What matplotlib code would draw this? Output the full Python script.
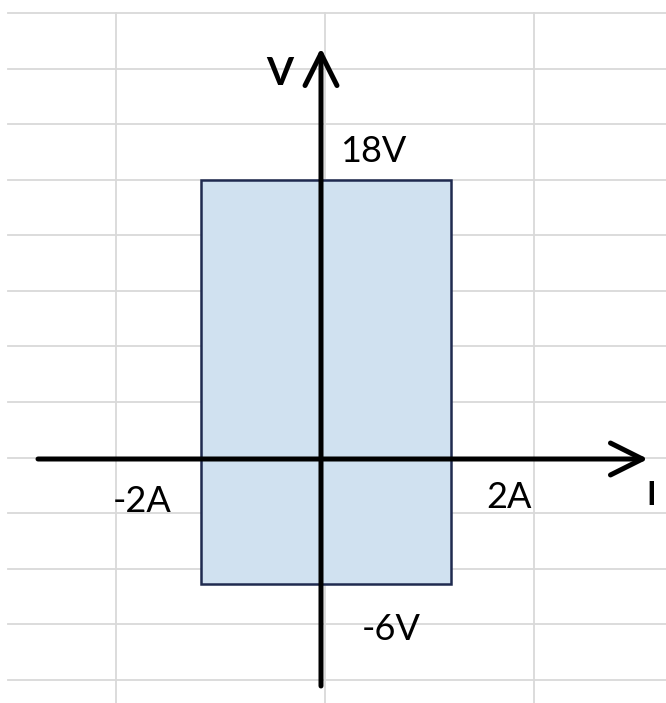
import numpy as np
import matplotlib
matplotlib.use("Agg")
import matplotlib.pyplot as plt
from matplotlib.patches import Rectangle

# operating region (I in amps, V in volts)
i_min, i_max = -2, 2
v_min, v_max = -6, 18
i_labels = ["-2A", "2A"]
v_labels = ["18V", "-6V"]

# sketch is not drawn to scale: different px/unit on each side of the axes
PX_I_NEG, PX_I_POS = 60.0, 65.0
PX_V_NEG, PX_V_POS = 20.83, 15.5


def piecewise(neg, pos):
    def fwd(v):
        v = np.asarray(v, dtype=float)
        return np.where(v < 0, v * neg, v * pos)

    def inv(p):
        p = np.asarray(p, dtype=float)
        return np.where(p < 0, p / neg, p / pos)
    return fwd, inv


W, H = 666, 703
fig = plt.figure(figsize=(W / 100, H / 100), dpi=100)
plt.rcParams['font.family'] = ['Lato', 'DejaVu Sans']

# spreadsheet grid in the background (pixel coords)
bg = fig.add_axes([0, 0, 1, 1])
bg.set_xlim(0, W)
bg.set_ylim(H, 0)
bg.axis('off')
grid_col = '#d9d9d9'
for y in np.arange(13, H, 55.58):
    bg.plot([8, W], [y, y], color=grid_col, lw=1.3, zorder=0)
for x in np.arange(116, W, 209):
    bg.plot([x, x], [13, H], color=grid_col, lw=1.3, zorder=0)

# chart axes in data units
ax = fig.add_axes([0, 0, 1, 1])
ax.patch.set_alpha(0)
ax.set_xscale('function', functions=piecewise(PX_I_NEG, PX_I_POS))
ax.set_yscale('function', functions=piecewise(PX_V_NEG, PX_V_POS))
ax.set_xlim(-321 / PX_I_NEG, (W - 321) / PX_I_POS)
ax.set_ylim(-(H - 459) / PX_V_NEG, 459 / PX_V_POS)
ax.axis('off')

rect = Rectangle((i_min, v_min), i_max - i_min, v_max - v_min,
                 facecolor='#d0e1f0', edgecolor='#1f2a4f', lw=1.8, zorder=1)
ax.add_patch(rect)

arrow = dict(arrowstyle='->, head_length=1.0, head_width=0.5', lw=3.6,
             color='black', shrinkA=0, shrinkB=0, mutation_scale=23)
i_tip, i_tail = 327 / PX_I_POS, -283 / PX_I_NEG
v_tip, v_tail = 411 / PX_V_POS, -227 / PX_V_NEG
ax.annotate('', xy=(i_tip, 0), xytext=(i_tail, 0), arrowprops=arrow, zorder=3)
ax.annotate('', xy=(0, v_tip), xytext=(0, v_tail), arrowprops=arrow, zorder=3)

fs = 26
ax.annotate(v_labels[0], xy=(0, v_max), xytext=(19, 18), textcoords='offset pixels',
            ha='left', va='baseline', fontsize=fs)
ax.annotate(v_labels[1], xy=(0, v_min), xytext=(41, -56), textcoords='offset pixels',
            ha='left', va='baseline', fontsize=fs)
ax.annotate(i_labels[0], xy=(i_min, 0), xytext=(-29, -53), textcoords='offset pixels',
            ha='right', va='baseline', fontsize=fs)
ax.annotate(i_labels[1], xy=(i_max, 0), xytext=(35, -49), textcoords='offset pixels',
            ha='left', va='baseline', fontsize=fs)
ax.annotate('V', xy=(0, v_tip), xytext=(-28, -37), textcoords='offset pixels',
            ha='right', va='baseline', fontsize=28, fontweight='bold')
ax.annotate('I', xy=(i_tip, 0), xytext=(3, -46), textcoords='offset pixels',
            ha='center', va='baseline', fontsize=23, fontweight='bold')

fig.savefig('out.png', dpi=100)
